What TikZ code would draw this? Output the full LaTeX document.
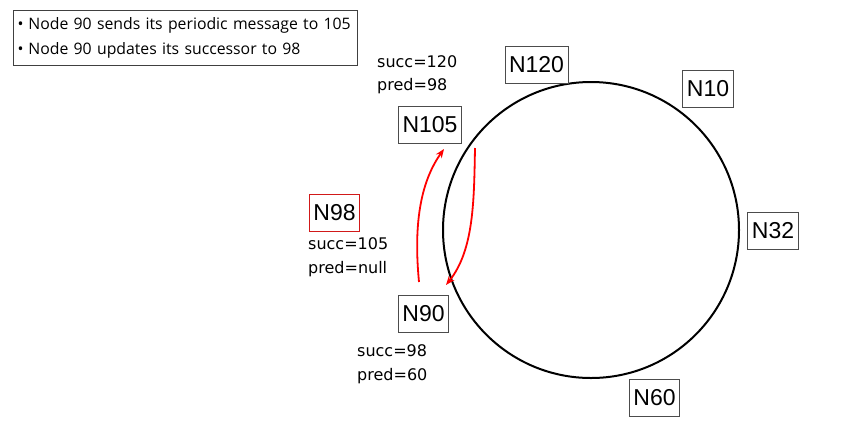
\documentclass[tikz,border=0pt]{standalone}
\usepackage{fontspec}
\setmainfont{Liberation Sans}
\newfontfamily\legendfont{Open Sans}
\newfontfamily\infofont{DejaVu Sans}
\usetikzlibrary{arrows.meta}
\tikzset{
  ring/.style={draw=black, line width=2pt},
  nodebox/.style={draw=black!70, line width=0.9pt, font=\fontsize{23}{26}\selectfont, inner xsep=4pt, minimum height=37pt, fill=white},
  newbox/.style={nodebox, draw=red!80!black!90},
  info/.style={font=\infofont\fontsize{16}{23.5}\selectfont, align=left, anchor=west, inner sep=0pt},
  legend/.style={draw=black!75, line width=1pt, font=\legendfont\fontsize{15.8}{25}\selectfont, align=left, anchor=north west, minimum width=344pt, minimum height=55pt, inner xsep=4pt, text width=336pt},
  msg/.style={draw=red, line width=1.8pt, -{Stealth[length=9pt,width=7pt]}}
}
\begin{document}
\begin{tikzpicture}[x=1pt,y=-1pt]
\useasboundingbox (0,0) rectangle (854,432);
\node[legend] (leg) at (13,10) {\textbullet\hspace{5pt}Node 90 sends its periodic message to 105\\\textbullet\hspace{5pt}Node 90 updates its successor to 98};
\node[ring, circle, minimum size=296pt, inner sep=0pt] (ring) at (591,230) {};
\node[nodebox] (n120) at (536.5,64.5) {N120};
\node[nodebox] (n10) at (708,88.5) {N10};
\node[nodebox] (n32) at (773,231) {N32};
\node[nodebox] (n60) at (654.5,398) {N60};
\node[nodebox] (n105) at (430,124.5) {N105};
\node[newbox] (n98) at (334.5,213) {N98};
\node[nodebox] (n90) at (423.5,314) {N90};
\node[info] (i105) at (377,74.5) {succ=120\\pred=98};
\node[info] (i98) at (308,257) {succ=105\\pred=null};
\node[info] (i90) at (357,364) {succ=98\\pred=60};
\coordinate (s1) at (419,282);
\coordinate (e1) at (444,149);
\coordinate (s2) at (475,148);
\coordinate (e2) at (446,285);
\draw[msg] (s1) .. controls (413,220) and (422,180) .. (e1);
\draw[msg] (s2) .. controls (474,200) and (474,250) .. (e2);
\end{tikzpicture}
\end{document}
